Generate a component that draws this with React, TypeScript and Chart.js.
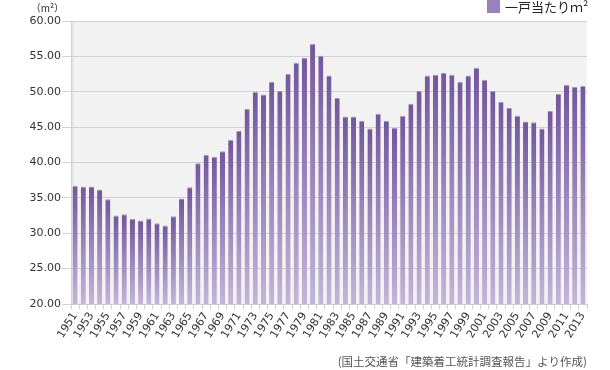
import React, { useEffect, useRef } from "react";
import { Chart, registerables } from "chart.js";

Chart.register(...registerables);

const years: string[] = [];
for (let y = 1951; y <= 2013; y++) years.push(String(y));

const areaPerHouse: number[] = [
  36.7, 36.6, 36.6, 36.2, 34.8, 32.5, 32.7, 32.0, 31.8, 32.1,
  31.4, 31.1, 32.4, 34.9, 36.5, 39.9, 41.1, 40.8, 41.6, 43.2,
  44.5, 47.6, 50.0, 49.6, 51.4, 50.1, 52.5, 54.1, 54.8, 56.8,
  55.1, 52.3, 49.1, 46.5, 46.5, 45.9, 44.8, 46.9, 45.9, 44.9,
  46.6, 48.3, 50.1, 52.3, 52.4, 52.7, 52.4, 51.4, 52.3, 53.4,
  51.7, 50.1, 48.6, 47.7, 46.6, 45.8, 45.7, 44.8, 47.3, 49.7,
  51.0, 50.7, 50.8,
];

const seriesLabel = "一戸当たりｍ²";
const unitLabel = "（m²）";
const sourceNote = "(国土交通省「建築着工統計調査報告」より作成)";

const FONT = "'DejaVu Sans', 'Liberation Sans', sans-serif";
const CJK = "'Noto Sans CJK JP', 'Liberation Sans', sans-serif";

const decorPlugin = {
  id: "decor",
  beforeDraw(chart: any) {
    const { ctx, chartArea } = chart;
    ctx.save();
    ctx.fillStyle = "#f2f2f2";
    ctx.fillRect(chartArea.left, chartArea.top, chartArea.right - chartArea.left, chartArea.bottom - chartArea.top);
    ctx.fillStyle = "#e6e6e6";
    ctx.fillRect(chartArea.left, chartArea.top, 3, chartArea.bottom - chartArea.top);
    ctx.restore();
  },
  afterDraw(chart: any) {
    const { ctx, chartArea } = chart;
    ctx.save();
    ctx.fillStyle = "#333";
    ctx.font = `10px ${CJK}`;
    ctx.textAlign = "right";
    ctx.textBaseline = "middle";
    ctx.fillText(unitLabel, 64, 8);
    ctx.fillStyle = "#9a80bd";
    ctx.fillRect(487, 0, 13, 13);
    ctx.fillStyle = "#222";
    ctx.font = `13px ${CJK}`;
    ctx.textAlign = "left";
    ctx.fillText(seriesLabel, 505, 7);
    ctx.fillStyle = "#555";
    ctx.font = `11.5px ${CJK}`;
    ctx.textAlign = "right";
    ctx.textBaseline = "alphabetic";
    ctx.fillText(sourceNote, chartArea.right, 366);
    ctx.restore();
  },
};

export default function App() {
  const ref = useRef<HTMLCanvasElement | null>(null);
  useEffect(() => {
    document.body.style.margin = "0";
    const canvas = ref.current!;
    const chart = new Chart(canvas, {
      type: "bar",
      data: {
        labels: years,
        datasets: [
          {
            label: seriesLabel,
            data: areaPerHouse,
            backgroundColor: (c: any) => {
              const ch = c.chart;
              const area = ch.chartArea;
              if (!area || c.raw == null) return "#8a6cb0";
              const yTop = ch.scales.y.getPixelForValue(c.raw);
              const g = ch.ctx.createLinearGradient(0, yTop, 0, area.bottom);
              g.addColorStop(0, "#74569c");
              g.addColorStop(1, "#c3b5d9");
              return g;
            },
            borderColor: "#a995c6",
            borderWidth: { top: 1, left: 0, right: 0, bottom: 0 } as any,
            borderSkipped: false,
            categoryPercentage: 1,
            barPercentage: 0.62,
          },
        ],
      },
      options: {
        responsive: false,
        animation: false,
        layout: { padding: { top: 21, right: 23, left: 0, bottom: 0 } },
        plugins: { legend: { display: false }, tooltip: { enabled: false } },
        scales: {
          x: {
            offset: true,
            grid: { display: true, drawOnChartArea: false, offset: true, color: "#cfcfcf", tickLength: 5 },
            border: { color: "#cfcfcf" },
            ticks: {
              autoSkip: false,
              maxRotation: 58,
              minRotation: 58,
              padding: 1,
              color: "#333",
              font: { family: FONT, size: 11 },
              callback: (_v: any, i: number) => (i % 2 === 0 ? years[i] : ""),
            },
            afterFit: (s: any) => {
              s.height = 66;
            },
          },
          y: {
            min: 20,
            max: 60,
            grid: { color: "#d2d2d2", tickLength: 9 },
            border: { color: "#d2d2d2" },
            ticks: {
              stepSize: 5,
              padding: 1,
              color: "#333",
              font: { family: FONT, size: 11 },
              callback: (v: any) => Number(v).toFixed(2),
            },
            afterFit: (s: any) => {
              s.width = 71;
            },
          },
        },
      },
      plugins: [decorPlugin],
    });
    return () => chart.destroy();
  }, []);
  return (
    <div style={{ position: "absolute", left: 0, top: 0, width: 610, height: 370 }}>
      <canvas ref={ref} width={610} height={370} />
    </div>
  );
}
